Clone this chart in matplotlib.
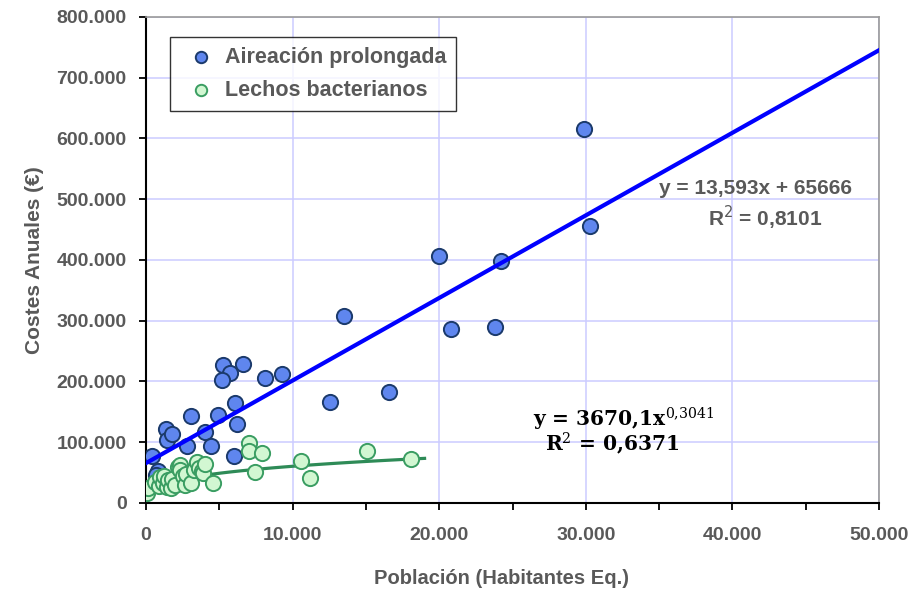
import numpy as np
import matplotlib.pyplot as plt
from matplotlib.ticker import FuncFormatter, MultipleLocator

# Aireación prolongada: población (h-e) y costes anuales (€)
aireacion_x = [400, 800, 650, 1350, 1400, 1800, 3100, 2800, 4000, 4400, 3500,
               4900, 5250, 5700, 5200, 6600, 6100, 6200, 6000, 8100, 9300,
               12550, 13500, 16600, 20000, 20800, 23800, 24200, 29900, 30300]
aireacion_y = [77000, 53000, 46000, 122000, 104000, 113000, 143000, 94000,
               117000, 94000, 51000, 145000, 227000, 214000, 202000, 229000,
               164000, 130000, 77000, 205000, 212000, 166000, 308000, 183000,
               407000, 286000, 289000, 398000, 615000, 456000]

# Lechos bacterianos
lechos_x = [50, 150, 600, 900, 950, 1150, 1200, 1400, 1500, 1700, 1750, 2000,
            2200, 2300, 2300, 2500, 2650, 2700, 3100, 3300, 3500, 3600, 3800,
            3900, 4000, 4600, 7000, 7000, 7900, 7400, 10600, 11200, 15100, 18100]
lechos_y = [16000, 25000, 35000, 28000, 43000, 33000, 45000, 26000, 38000,
            24000, 40000, 30000, 59000, 63000, 54000, 44000, 30000, 48000,
            33000, 55000, 67000, 58000, 52000, 50000, 64000, 33000, 99000,
            86000, 82000, 51000, 69000, 41000, 86000, 72000]

# líneas de tendencia
lin_a, lin_b = 13.593, 65666
pot_a, pot_b = 3670.1, 0.3041

grey = '#595959'
plt.rcParams['font.family'] = ['Liberation Sans', 'DejaVu Sans']

fig = plt.figure(figsize=(9.19, 5.9), dpi=100)
ax = fig.add_axes([0.1589, 0.1475, 0.7976, 0.8237])

ax.scatter(aireacion_x, aireacion_y, s=120, color='#5f86ee', edgecolor='#1b3a6b',
           linewidth=1.4, zorder=3, label='Aireación prolongada')
ax.scatter(lechos_x, lechos_y, s=120, color='#d2f7d2', edgecolor='#3a9d62',
           linewidth=1.4, zorder=4, label='Lechos bacterianos')

xl = np.linspace(0, 50000, 50)
ax.plot(xl, lin_a * xl + lin_b, color='#0000ff', lw=3, zorder=5)

xp = np.linspace(300, 19000, 40)
ax.plot(xp, pot_a * xp ** pot_b, color='#2e8b57', lw=2.3, zorder=3.5)

ax.set_xlim(0, 50000)
ax.set_ylim(0, 800000)
ax.xaxis.set_major_locator(MultipleLocator(10000))
ax.xaxis.set_minor_locator(MultipleLocator(5000))
ax.yaxis.set_major_locator(MultipleLocator(100000))

fmt = FuncFormatter(lambda v, p: f'{int(v):,}'.replace(',', '.'))
ax.xaxis.set_major_formatter(fmt)
ax.yaxis.set_major_formatter(fmt)

ax.grid(True, color='#ccccff', lw=1.1, zorder=0)
ax.set_axisbelow(True)

for s in ['left', 'bottom']:
    ax.spines[s].set_color('black')
    ax.spines[s].set_linewidth(1.5)
for s in ['top', 'right']:
    ax.spines[s].set_color('#999999')
    ax.spines[s].set_linewidth(1.2)

ax.tick_params(axis='both', which='both', direction='out', length=5, width=1.3,
               colors='black', labelcolor=grey)
ax.tick_params(axis='x', labelsize=14, pad=12)
ax.tick_params(axis='y', labelsize=14, pad=9)
for lbl in ax.get_xticklabels() + ax.get_yticklabels():
    lbl.set_fontweight('bold')

ax.set_xlabel('Población (Habitantes Eq.)', fontsize=14.5, fontweight='bold',
              color=grey)
ax.xaxis.set_label_coords(0.485, -0.135)
ax.set_ylabel('Costes Anuales (€)', fontsize=15, fontweight='bold',
              color=grey, labelpad=9)

leg = ax.legend(loc='upper left', bbox_to_anchor=(0.033, 0.958),
                prop={'weight': 'bold', 'size': 15.5}, frameon=True, fancybox=False,
                edgecolor='black', borderpad=0.45, handletextpad=0.1,
                markerscale=0.75, labelspacing=0.55, borderaxespad=0)
leg.get_frame().set_linewidth(1.0)
for t in leg.get_texts():
    t.set_color(grey)

ax.text(0.832, 0.648, 'y = 13,593x + 65666', transform=ax.transAxes,
        ha='center', va='center', fontsize=15, fontweight='bold', color=grey)
ax.text(0.845, 0.586, 'R$^2$ = 0,8101', transform=ax.transAxes,
        ha='center', va='center', fontsize=15, fontweight='bold', color=grey)

ax.text(0.651, 0.171, 'y = 3670,1x$^{0{,}3041}$', transform=ax.transAxes,
        ha='center', va='center', fontsize=14.5, fontweight='bold', color='black',
        family='DejaVu Serif', math_fontfamily='dejavuserif')
ax.text(0.636, 0.121, 'R$^2$ = 0,6371', transform=ax.transAxes,
        ha='center', va='center', fontsize=14.5, fontweight='bold', color='black',
        family='DejaVu Serif', math_fontfamily='dejavuserif')

fig.savefig('out.png', dpi=100)
